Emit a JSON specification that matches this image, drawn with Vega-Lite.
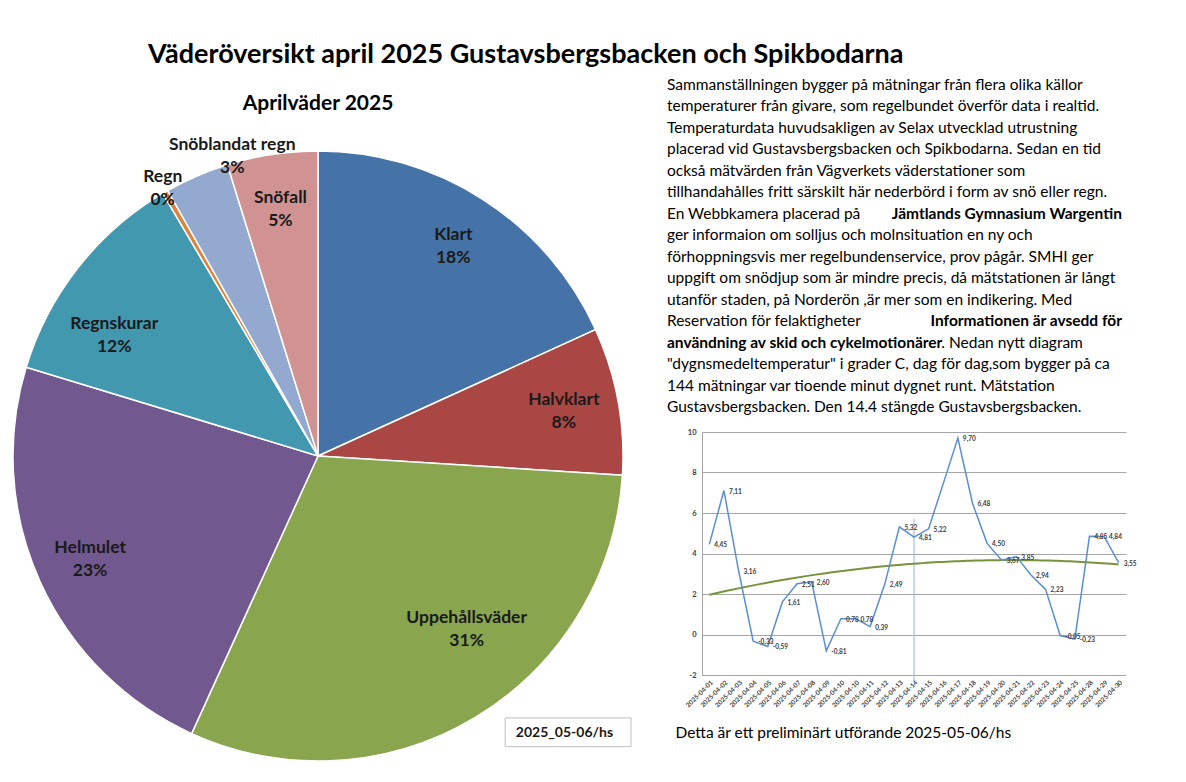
{
  "$schema": "https://vega.github.io/schema/vega-lite/v6.json",
  "background": "white",
  "padding": {"left": 5, "top": 41, "right": 5, "bottom": 5},
  "title": {
    "text": "Väderöversikt  april 2025 Gustavsbergsbacken och Spikbodarna",
    "anchor": "start",
    "dx": 143,
    "font": "Lato",
    "fontSize": 27,
    "fontWeight": "bold",
    "color": "#000000",
    "offset": 5
  },
  "spacing": 34,
  "hconcat": [
    {
      "spacing": 16,
      "bounds": "flush",
      "vconcat": [
        {
          "width": 626,
          "height": 60,
          "data": {"values": [{"rubrik": "Aprilväder 2025"}]},
          "mark": {"type": "text", "align": "center", "baseline": "middle", "font": "Lato", "fontSize": 21, "fontWeight": "bold", "color": "#000000"},
          "encoding": {"text": {"field": "rubrik", "type": "nominal"}}
        },
        {
          "width": 626,
          "height": 612,
          "data": {
            "values": [
              {"ordning": 1, "kategori": "Klart", "andel": 0.182},
              {"ordning": 2, "kategori": "Halvklart", "andel": 0.078},
              {"ordning": 3, "kategori": "Uppehållsväder", "andel": 0.308},
              {"ordning": 4, "kategori": "Helmulet", "andel": 0.229},
              {"ordning": 5, "kategori": "Regnskurar", "andel": 0.118},
              {"ordning": 6, "kategori": "Regn", "andel": 0.003},
              {"ordning": 7, "kategori": "Snöblandat regn", "andel": 0.034},
              {"ordning": 8, "kategori": "Snöfall", "andel": 0.048}
            ]
          },
          "layer": [
            {
              "mark": {"type": "arc", "outerRadius": 305, "stroke": "white", "strokeWidth": 1.5},
              "encoding": {
                "theta": {"field": "andel", "type": "quantitative", "stack": true},
                "order": {"field": "ordning", "type": "quantitative"},
                "color": {
                  "field": "kategori",
                  "type": "nominal",
                  "scale": {
                    "domain": ["Klart", "Halvklart", "Uppehållsväder", "Helmulet", "Regnskurar", "Regn", "Snöblandat regn", "Snöfall"],
                    "range": ["#4572a7", "#aa4643", "#89a54e", "#71588f", "#4198af", "#db843d", "#93a9cf", "#d19392"]
                  },
                  "legend": null
                }
              }
            },
            {
              "mark": {"type": "text", "radius": 250, "dy": -11, "font": "Lato", "fontSize": 17.5, "fontWeight": "bold", "color": "#1a1a1a"},
              "encoding": {
                "theta": {"field": "andel", "type": "quantitative", "stack": true},
                "order": {"field": "ordning", "type": "quantitative"},
                "text": {"condition": {"test": "datum.andel >= 0.04 && datum.kategori != 'Uppehållsväder' && datum.kategori != 'Regnskurar'", "field": "kategori", "type": "nominal"}, "value": ""}
              }
            },
            {
              "mark": {"type": "text", "radius": 250, "dy": 12, "font": "Lato", "fontSize": 17.5, "fontWeight": "bold", "color": "#1a1a1a"},
              "encoding": {
                "theta": {"field": "andel", "type": "quantitative", "stack": true},
                "order": {"field": "ordning", "type": "quantitative"},
                "text": {"condition": {"test": "datum.andel >= 0.04 && datum.kategori != 'Uppehållsväder' && datum.kategori != 'Regnskurar'", "field": "andel", "type": "quantitative", "format": ".0%"}, "value": ""}
              }
            },
            {
              "mark": {"type": "text", "radius": 228, "thetaOffset": -0.17, "dy": -11, "font": "Lato", "fontSize": 17.5, "fontWeight": "bold", "color": "#1a1a1a"},
              "encoding": {
                "theta": {"field": "andel", "type": "quantitative", "stack": true},
                "order": {"field": "ordning", "type": "quantitative"},
                "text": {"condition": {"test": "datum.kategori == 'Uppehållsväder'", "field": "kategori", "type": "nominal"}, "value": ""}
              }
            },
            {
              "mark": {"type": "text", "radius": 228, "thetaOffset": -0.17, "dy": 12, "font": "Lato", "fontSize": 17.5, "fontWeight": "bold", "color": "#1a1a1a"},
              "encoding": {
                "theta": {"field": "andel", "type": "quantitative", "stack": true},
                "order": {"field": "ordning", "type": "quantitative"},
                "text": {"condition": {"test": "datum.kategori == 'Uppehållsväder'", "field": "andel", "type": "quantitative", "format": ".0%"}, "value": ""}
              }
            },
            {
              "mark": {"type": "text", "radius": 237, "thetaOffset": -0.13, "dy": -11, "font": "Lato", "fontSize": 17.5, "fontWeight": "bold", "color": "#1a1a1a"},
              "encoding": {
                "theta": {"field": "andel", "type": "quantitative", "stack": true},
                "order": {"field": "ordning", "type": "quantitative"},
                "text": {"condition": {"test": "datum.kategori == 'Regnskurar'", "field": "kategori", "type": "nominal"}, "value": ""}
              }
            },
            {
              "mark": {"type": "text", "radius": 237, "thetaOffset": -0.13, "dy": 12, "font": "Lato", "fontSize": 17.5, "fontWeight": "bold", "color": "#1a1a1a"},
              "encoding": {
                "theta": {"field": "andel", "type": "quantitative", "stack": true},
                "order": {"field": "ordning", "type": "quantitative"},
                "text": {"condition": {"test": "datum.kategori == 'Regnskurar'", "field": "andel", "type": "quantitative", "format": ".0%"}, "value": ""}
              }
            },
            {
              "mark": {"type": "text", "radius": 310, "dy": -11, "font": "Lato", "fontSize": 17.5, "fontWeight": "bold", "color": "#1a1a1a"},
              "encoding": {
                "theta": {"field": "andel", "type": "quantitative", "stack": true},
                "order": {"field": "ordning", "type": "quantitative"},
                "text": {"condition": {"test": "datum.kategori == 'Regn'", "field": "kategori", "type": "nominal"}, "value": ""}
              }
            },
            {
              "mark": {"type": "text", "radius": 310, "dy": 12, "font": "Lato", "fontSize": 17.5, "fontWeight": "bold", "color": "#1a1a1a"},
              "encoding": {
                "theta": {"field": "andel", "type": "quantitative", "stack": true},
                "order": {"field": "ordning", "type": "quantitative"},
                "text": {"condition": {"test": "datum.kategori == 'Regn'", "field": "andel", "type": "quantitative", "format": ".0%"}, "value": ""}
              }
            },
            {
              "mark": {"type": "text", "radius": 312, "thetaOffset": 0.13, "dy": -11, "font": "Lato", "fontSize": 17.5, "fontWeight": "bold", "color": "#1a1a1a"},
              "encoding": {
                "theta": {"field": "andel", "type": "quantitative", "stack": true},
                "order": {"field": "ordning", "type": "quantitative"},
                "text": {"condition": {"test": "datum.kategori == 'Snöblandat regn'", "field": "kategori", "type": "nominal"}, "value": ""}
              }
            },
            {
              "mark": {"type": "text", "radius": 312, "thetaOffset": 0.13, "dy": 12, "font": "Lato", "fontSize": 17.5, "fontWeight": "bold", "color": "#1a1a1a"},
              "encoding": {
                "theta": {"field": "andel", "type": "quantitative", "stack": true},
                "order": {"field": "ordning", "type": "quantitative"},
                "text": {"condition": {"test": "datum.kategori == 'Snöblandat regn'", "field": "andel", "type": "quantitative", "format": ".0%"}, "value": ""}
              }
            },
            {
              "data": {"values": [{"etikett": "2025_05-06/hs"}]},
              "mark": {"type": "rect", "fill": "white", "stroke": "#c0c0c0", "strokeWidth": 1},
              "encoding": {
                "x": {"datum": 0.799, "type": "quantitative", "scale": {"domain": [0, 1], "nice": false, "zero": false}, "axis": null},
                "x2": {"datum": 1.0},
                "y": {"datum": 0.072, "type": "quantitative", "scale": {"domain": [0, 1], "nice": false, "zero": false}, "axis": null},
                "y2": {"datum": 0.025}
              }
            },
            {
              "data": {"values": [{"etikett": "2025_05-06/hs"}]},
              "mark": {"type": "text", "align": "left", "baseline": "middle", "font": "Lato", "fontSize": 14, "fontWeight": "bold", "color": "#1a1a1a"},
              "encoding": {
                "x": {"datum": 0.816, "type": "quantitative"},
                "y": {"datum": 0.048, "type": "quantitative"},
                "text": {"field": "etikett", "type": "nominal"}
              }
            }
          ]
        }
      ]
    },
    {
      "spacing": 10,
      "vconcat": [
        {
          "width": 455,
          "height": 344,
          "data": {
            "values": [
              {"rad": 1, "inledning": "Sammanställningen bygger  på mätningar från flera olika källor"},
              {"rad": 2, "inledning": "temperaturer från givare, som regelbundet  överför data i realtid."},
              {"rad": 3, "inledning": "Temperaturdata huvudsakligen av Selax utvecklad utrustning"},
              {"rad": 4, "inledning": "placerad vid Gustavsbergsbacken och Spikbodarna. Sedan en tid"},
              {"rad": 5, "inledning": "också mätvärden från Vägverkets väderstationer som"},
              {"rad": 6, "inledning": "tillhandahålles fritt särskilt här nederbörd i form av snö eller regn."},
              {"rad": 7, "inledning": "En Webbkamera placerad på", "betonad_slut": "Jämtlands Gymnasium Wargentin"},
              {"rad": 8, "inledning": "ger  informaion om solljus och molnsituation en ny och"},
              {"rad": 9, "inledning": "förhoppningsvis mer regelbundenservice, prov pågår. SMHI ger"},
              {"rad": 10, "inledning": "uppgift om snödjup som är mindre precis, då mätstationen är långt"},
              {"rad": 11, "inledning": "utanför staden, på Norderön ,är mer som en indikering.   Med"},
              {"rad": 12, "inledning": "Reservation för felaktigheter", "betonad_slut": "Informationen  är avsedd för"},
              {"rad": 13, "betonad_inledning": "användning  av skid och cykelmotionärer", "avslutning": ". Nedan nytt diagram"},
              {"rad": 14, "inledning": "\"dygnsmedeltemperatur\" i grader C, dag för dag,som bygger på ca"},
              {"rad": 15, "inledning": "144 mätningar var tioende minut dygnet runt. Mätstation"},
              {"rad": 16, "inledning": "Gustavsbergsbacken. Den 14.4 stängde Gustavsbergsbacken."}
            ]
          },
          "encoding": {
            "y": {"field": "rad", "type": "ordinal", "axis": null, "scale": {"type": "point", "padding": 0.5, "domain": [1, 2, 3, 4, 5, 6, 7, 8, 9, 10, 11, 12, 13, 14, 15, 16]}}
          },
          "layer": [
            {
              "transform": [{"filter": "isValid(datum.inledning)"}],
              "mark": {"type": "text", "align": "left", "baseline": "middle", "font": "Lato", "fontSize": 15.5, "color": "#000000"},
              "encoding": {
                "x": {"datum": 0, "type": "quantitative", "scale": {"domain": [0.077, 1.077], "nice": false, "zero": false}, "axis": null},
                "text": {"field": "inledning", "type": "nominal"}
              }
            },
            {
              "transform": [{"filter": "isValid(datum.betonad_inledning)"}],
              "mark": {"type": "text", "align": "left", "baseline": "middle", "font": "Lato", "fontSize": 15.5, "fontWeight": "bold", "color": "#000000"},
              "encoding": {
                "x": {"datum": 0, "type": "quantitative"},
                "text": {"field": "betonad_inledning", "type": "nominal"}
              }
            },
            {
              "transform": [{"filter": "isValid(datum.betonad_slut)"}],
              "mark": {"type": "text", "align": "right", "baseline": "middle", "font": "Lato", "fontSize": 15.5, "fontWeight": "bold", "color": "#000000"},
              "encoding": {
                "x": {"datum": 1, "type": "quantitative"},
                "text": {"field": "betonad_slut", "type": "nominal"}
              }
            },
            {
              "transform": [{"filter": "isValid(datum.avslutning)"}],
              "mark": {"type": "text", "align": "left", "baseline": "middle", "font": "Lato", "fontSize": 15.5, "color": "#000000"},
              "encoding": {
                "x": {"datum": 0.603, "type": "quantitative"},
                "text": {"field": "avslutning", "type": "nominal"}
              }
            }
          ]
        },
        {
          "width": 424,
          "height": 243,
          "data": {
            "values": [
              {"i": 1, "dag": "2025-04-01", "temp": 4.45},
              {"i": 2, "dag": "2025-04-02", "temp": 7.11},
              {"i": 3, "dag": "2025-04-03", "temp": 3.16},
              {"i": 4, "dag": "2025-04-04", "temp": -0.33},
              {"i": 5, "dag": "2025-04-05", "temp": -0.59},
              {"i": 6, "dag": "2025-04-06", "temp": 1.61},
              {"i": 7, "dag": "2025-04-07", "temp": 2.51},
              {"i": 8, "dag": "2025-04-08", "temp": 2.60},
              {"i": 9, "dag": "2025-04-09", "temp": -0.81},
              {"i": 10, "dag": "2025-04-10", "temp": 0.78},
              {"i": 11, "dag": "2025-04-10", "temp": 0.78},
              {"i": 12, "dag": "2025-04-11", "temp": 0.39},
              {"i": 13, "dag": "2025-04-12", "temp": 2.49},
              {"i": 14, "dag": "2025-04-13", "temp": 5.32},
              {"i": 15, "dag": "2025-04-14", "temp": 4.81},
              {"i": 16, "dag": "2025-04-15", "temp": 5.22},
              {"i": 17, "dag": "2025-04-16", "temp": 7.45},
              {"i": 18, "dag": "2025-04-17", "temp": 9.70},
              {"i": 19, "dag": "2025-04-18", "temp": 6.48},
              {"i": 20, "dag": "2025-04-19", "temp": 4.50},
              {"i": 21, "dag": "2025-04-20", "temp": 3.67},
              {"i": 22, "dag": "2025-04-21", "temp": 3.85},
              {"i": 23, "dag": "2025-04-22", "temp": 2.94},
              {"i": 24, "dag": "2025-04-23", "temp": 2.23},
              {"i": 25, "dag": "2025-04-24", "temp": -0.05},
              {"i": 26, "dag": "2025-04-25", "temp": -0.23},
              {"i": 27, "dag": "2025-04-28", "temp": 4.85},
              {"i": 28, "dag": "2025-04-29", "temp": 4.84},
              {"i": 29, "dag": "2025-04-30", "temp": 3.55}
            ]
          },
          "encoding": {
            "x": {
              "field": "i",
              "type": "quantitative",
              "scale": {"domain": [0.5, 29.5], "nice": false, "zero": false},
              "axis": {
                "values": [1, 2, 3, 4, 5, 6, 7, 8, 9, 10, 11, 12, 13, 14, 15, 16, 17, 18, 19, 20, 21, 22, 23, 24, 25, 26, 27, 28, 29],
                "labelExpr": "['2025-04-01','2025-04-02','2025-04-03','2025-04-04','2025-04-05','2025-04-06','2025-04-07','2025-04-08','2025-04-09','2025-04-10','2025-04-10','2025-04-11','2025-04-12','2025-04-13','2025-04-14','2025-04-15','2025-04-16','2025-04-17','2025-04-18','2025-04-19','2025-04-20','2025-04-21','2025-04-22','2025-04-23','2025-04-24','2025-04-25','2025-04-28','2025-04-29','2025-04-30'][datum.value - 1]",
                "labelAngle": -45,
                "labelAlign": "right",
                "labelBaseline": "top",
                "labelFont": "Lato",
                "labelFontSize": 6.5,
                "labelFontWeight": "bold",
                "labelColor": "#404040",
                "labelPadding": 4,
                "labelOverlap": false,
                "labelFlush": false,
                "labelBound": false,
                "grid": false,
                "domain": false,
                "ticks": false,
                "title": "Detta är ett preliminärt utförande 2025-05-06/hs",
                "titleFont": "Lato",
                "titleFontSize": 15.5,
                "titleFontWeight": "normal",
                "titleColor": "#000000",
                "titleAnchor": "start",
                "titleAlign": "left",
                "titleX": -27,
                "titlePadding": 17
              }
            },
            "y": {
              "field": "temp",
              "type": "quantitative",
              "scale": {"domain": [-2, 10], "nice": false, "zero": false},
              "axis": {
                "values": [-2, 0, 2, 4, 6, 8, 10],
                "grid": true,
                "gridColor": "#a6a6a6",
                "gridWidth": 1,
                "domain": true,
                "domainColor": "#a6a6a6",
                "ticks": false,
                "labelFont": "Lato",
                "labelFontSize": 7.5,
                "labelFontWeight": "bold",
                "labelColor": "#404040",
                "labelPadding": 6,
                "minExtent": 35,
                "title": null
              }
            }
          },
          "layer": [
            {
              "data": {"values": [{"ram": "diagramyta"}]},
              "mark": {"type": "rect", "fill": null, "stroke": "#d4d4d4", "strokeWidth": 1.5},
              "encoding": {
                "x": {"datum": -1.3, "type": "quantitative"},
                "x2": {"datum": 31.0},
                "y": {"datum": 10.25, "type": "quantitative"},
                "y2": {"datum": -3.93}
              }
            },
            {
              "transform": [{"filter": "datum.dag == '2025-04-14'"}],
              "mark": {"type": "rule", "color": "#8eb4e3", "strokeWidth": 1},
              "encoding": {
                "y": {"datum": 5.7, "type": "quantitative"},
                "y2": {"datum": -2.3}
              }
            },
            {
              "transform": [{"regression": "temp", "on": "i", "method": "poly", "order": 2, "extent": [1, 29]}],
              "mark": {"type": "line", "color": "#77933c", "strokeWidth": 2}
            },
            {
              "mark": {"type": "line", "color": "#5a8fd4", "strokeWidth": 1.5}
            },
            {
              "transform": [{"filter": "datum.i != 17"}],
              "mark": {"type": "text", "align": "left", "baseline": "middle", "dx": 5, "dy": 1, "font": "Lato", "fontSize": 6.5, "fontWeight": "bold", "color": "#404040"},
              "encoding": {
                "text": {"field": "temp", "type": "quantitative", "format": ".2f"}
              }
            },
            {
              "data": {"values": [{"rubrik": "Gustavsbergsbacken"}]},
              "mark": {"type": "text", "align": "left", "baseline": "middle", "font": "Lato", "fontSize": 10.5, "fontWeight": "bold", "color": "#262626"},
              "encoding": {
                "x": {"datum": 9.94, "type": "quantitative"},
                "y": {"datum": 8.02, "type": "quantitative"},
                "text": {"field": "rubrik", "type": "nominal"}
              }
            },
            {
              "data": {"values": [{"underrubrik": "dygnsmedeltemperatur  april 2025"}]},
              "mark": {"type": "text", "align": "left", "baseline": "middle", "font": "Lato", "fontSize": 7.5, "fontWeight": "bold", "color": "#262626"},
              "encoding": {
                "x": {"datum": 9.94, "type": "quantitative"},
                "y": {"datum": 7.43, "type": "quantitative"},
                "text": {"field": "underrubrik", "type": "nominal"}
              }
            },
            {
              "data": {"values": [{"signatur": "2025-05-06/hs"}]},
              "mark": {"type": "text", "align": "left", "baseline": "middle", "font": "Lato", "fontSize": 6.5, "fontWeight": "bold", "color": "#404040"},
              "encoding": {
                "x": {"datum": 23.48, "type": "quantitative"},
                "y": {"datum": -1.46, "type": "quantitative"},
                "text": {"field": "signatur", "type": "nominal"}
              }
            }
          ]
        }
      ]
    }
  ],
  "config": {
    "font": "Lato",
    "view": {"stroke": null},
    "axisX": {"labelOverlap": false},
    "locale": {
      "number": {"decimal": ",", "thousands": " ", "grouping": [3], "currency": ["", " kr"], "minus": "-"}
    }
  }
}
